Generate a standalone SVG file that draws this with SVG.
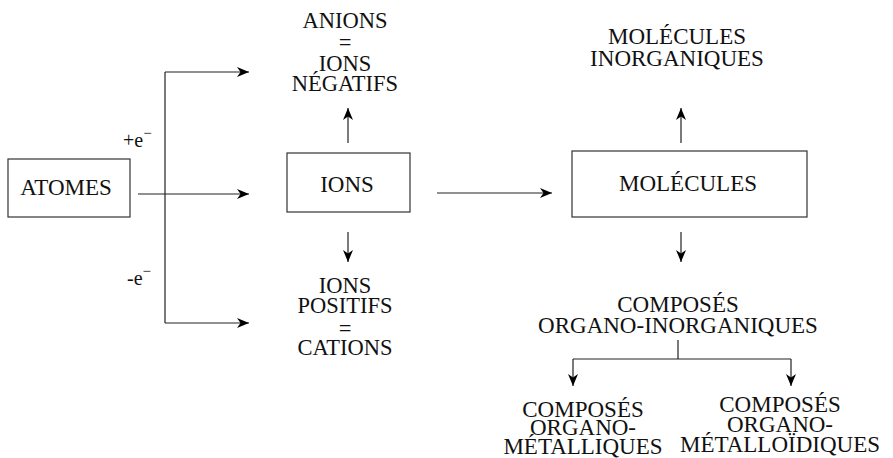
<svg xmlns="http://www.w3.org/2000/svg" width="893" height="458" viewBox="0 0 893 458">
<style>
.box{fill:#fff;stroke:#333;stroke-width:1.2}
.c{fill:none;stroke:#222;stroke-width:1.2}
</style>
<defs>
<marker id="ah" markerUnits="userSpaceOnUse" markerWidth="14" markerHeight="12" viewBox="0 0 14 12" refX="12" refY="6" orient="auto">
<path d="M0,1 L12,6 L0,11 L3.5,6 Z" fill="#000"/>
</marker>
</defs>
<g id="connectors">
<path class="c" d="M165,72 V323"/>
<path class="c" d="M165,72 H249" marker-end="url(#ah)"/>
<path class="c" d="M138,194 H249" marker-end="url(#ah)"/>
<path class="c" d="M165,323 H249" marker-end="url(#ah)"/>
<path class="c" d="M348,143 V108" marker-end="url(#ah)"/>
<path class="c" d="M348,232 V262" marker-end="url(#ah)"/>
<path class="c" d="M437,193 H552" marker-end="url(#ah)"/>
<path class="c" d="M681,143 V108" marker-end="url(#ah)"/>
<path class="c" d="M681,232 V262" marker-end="url(#ah)"/>
<path class="c" d="M678,340 V359 M573,359 H791"/>
<path class="c" d="M573,359 V386" marker-end="url(#ah)"/>
<path class="c" d="M791,359 V386" marker-end="url(#ah)"/>
<g font-family="Liberation Serif, serif" font-size="20" fill="#111">
<text x="123" y="147">+e<tspan dy="-9" font-size="15">−</tspan></text>
<text x="127" y="285">-e<tspan dy="-9" font-size="15">−</tspan></text>
</g>
</g>
<g font-family="Liberation Serif, serif" fill="#111" text-anchor="middle" font-size="23">
<g id="atomes">
<rect class="box" x="8" y="159" width="122" height="58"/>
<text x="66" y="195">ATOMES</text>
</g>
<g id="ions">
<rect class="box" x="287" y="153" width="123" height="59"/>
<text x="347" y="192">IONS</text>
</g>
<g id="molecules">
<rect class="box" x="572" y="151" width="235" height="66"/>
<text x="688" y="191">MOLÉCULES</text>
</g>
<g id="anions" font-size="22.5">
<text x="345" y="28">ANIONS</text>
<text x="345" y="50">=</text>
<text x="345" y="71">IONS</text>
<text x="345" y="91">NÉGATIFS</text>
</g>
<g id="cations" font-size="22.5">
<text x="345" y="293">IONS</text>
<text x="345" y="313">POSITIFS</text>
<text x="345" y="336">=</text>
<text x="345" y="355">CATIONS</text>
</g>
<g id="molecules-inorganiques">
<text x="677" y="44">MOLÉCULES</text>
<text x="677" y="66">INORGANIQUES</text>
</g>
<g id="composes-organo-inorganiques">
<text x="678" y="312">COMPOSÉS</text>
<text x="678" y="333">ORGANO-INORGANIQUES</text>
</g>
<g id="composes-organometalliques">
<text x="583" y="417">COMPOSÉS</text>
<text x="583" y="435">ORGANO-</text>
<text x="583" y="454">MÉTALLIQUES</text>
</g>
<g id="composes-organometalloidiques">
<text x="780" y="412">COMPOSÉS</text>
<text x="780" y="432">ORGANO-</text>
<text x="780" y="452">MÉTALLOÏDIQUES</text>
</g>
</g>
</svg>
